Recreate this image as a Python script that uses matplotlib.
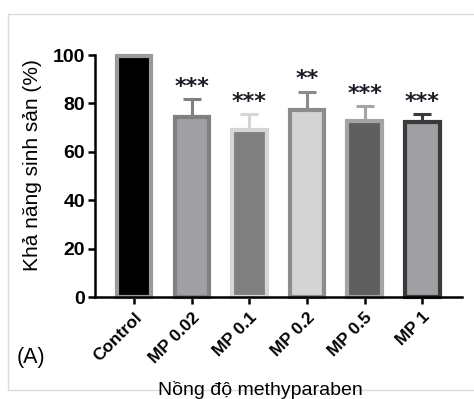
import matplotlib.pyplot as plt
from matplotlib.patches import Rectangle

plt.rcParams['font.family'] = ['Liberation Sans', 'DejaVu Sans']

# data
groups = ['Control', 'MP 0.02', 'MP 0.1', 'MP 0.2', 'MP 0.5', 'MP 1']
means = [99.5, 74.2, 69.0, 77.3, 72.8, 72.2]
sd_up = [0, 7.5, 6.7, 7.6, 6.2, 3.5]
stars = ['', '***', '***', '**', '***', '***']

fills = ['#000000', '#a0a0a4', '#808080', '#d4d4d4', '#5f5f5f', '#a0a0a4']
edges = ['#9a9a9a', '#808080', '#d6d6d6', '#8c8c8c', '#a4a4a4', '#3a3a3a']

fig = plt.figure(figsize=(4.74, 3.99), dpi=100)
fig.patches.append(Rectangle((8 / 474, 1 - 390 / 399), 1.0, (390 - 14) / 399,
                             transform=fig.transFigure, fill=False,
                             edgecolor='#dcdcdc', linewidth=1.0))

ax = fig.add_axes([95 / 474, 1 - 297 / 399, (462 - 95) / 474, (297 - 55) / 399])
x = range(len(groups))
for i in x:
    ax.bar(i, means[i], width=0.6, color=fills[i], edgecolor=edges[i],
           linewidth=3, clip_on=False, zorder=2)
    if sd_up[i] > 0:
        ax.errorbar(i, means[i], yerr=[[0], [sd_up[i]]], fmt='none',
                    ecolor=edges[i], elinewidth=2.2, capsize=6.5, capthick=2.2,
                    zorder=1)
        ax.text(i, means[i] + sd_up[i] + 2.6, stars[i], ha='center',
                va='baseline', fontsize=16, fontweight='bold',
                family='DejaVu Sans', color='#1c1c26')

ax.set_xlim(-0.68, 5.69)
ax.set_ylim(0, 100)
ax.set_yticks([0, 20, 40, 60, 80, 100])
ax.set_xticks(list(x))
ax.set_xticklabels(groups, rotation=45, ha='right', rotation_mode='anchor',
                   fontsize=12.5, fontweight='bold')
for lab in ax.get_yticklabels():
    lab.set_fontweight('bold')
    lab.set_fontsize(14)
ax.spines['top'].set_visible(False)
ax.spines['right'].set_visible(False)
ax.spines['left'].set_linewidth(1.8)
ax.spines['bottom'].set_linewidth(1.8)
ax.tick_params(axis='both', width=1.8, length=5, direction='out')
ax.tick_params(axis='y', pad=2)
ax.tick_params(axis='x', pad=4)

fig.text(33 / 474, 1 - 165 / 399, 'Khả năng sinh sản (%)', rotation=90,
         ha='center', va='center', fontsize=15)
fig.text(260 / 474, 1 - 390 / 399, 'Nồng độ methyparaben', ha='center',
         va='center', fontsize=14)
fig.text(31 / 474, 1 - 357 / 399, '(A)', ha='center', va='center', fontsize=15.5)

fig.savefig('out.png', dpi=100)
